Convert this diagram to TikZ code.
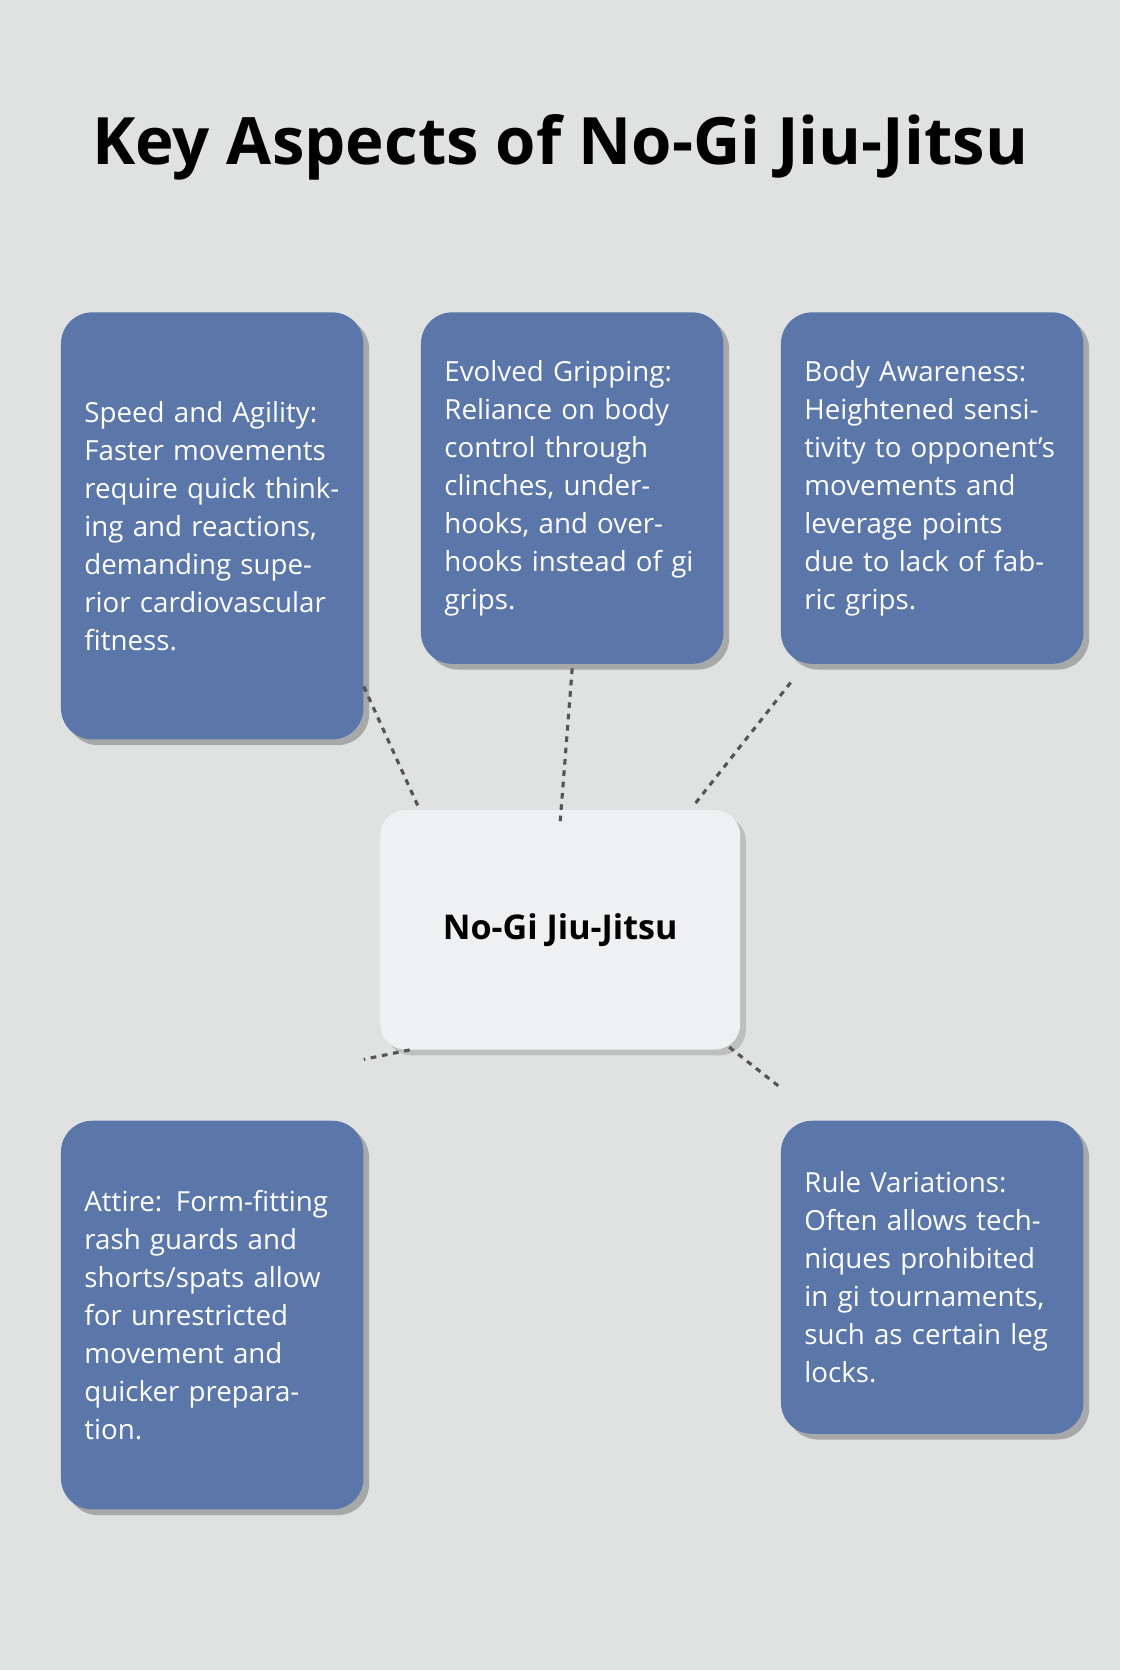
\documentclass[tikz,border=0pt]{standalone}
\usepackage{fontspec}
\setmainfont{Open Sans}
\usetikzlibrary{shadows}
\definecolor{bgray}{HTML}{E0E1E1}
\definecolor{cardblue}{HTML}{5B76A8}
\definecolor{hubwhite}{HTML}{EFF0F2}
\definecolor{linkgray}{HTML}{555555}
\tikzset{
  card/.style={draw=none, fill=cardblue, rounded corners=22pt, anchor=north west,
    text=white, align=left, text width=180pt, inner xsep=16.5pt,
    font=\fontsize{19.5}{26.8}\selectfont,
    drop shadow={shadow xshift=4pt, shadow yshift=-4pt, opacity=0.25, fill=black}},
  link/.style={linkgray, line width=2.2pt, dash pattern=on 4pt off 4pt}
}
\begin{document}
\begin{tikzpicture}[x=0.75pt, y=-0.75pt]
  \fill[bgray] (0,0) rectangle (1052,1568);
  \useasboundingbox (0,0) rectangle (1052,1568);
  % Title
  \node[font=\fontsize{46}{52}\selectfont\bfseries] (title) at (526,138) {Key Aspects of No-Gi Jiu-Jitsu};

  % Cards
  \node[card, minimum height=300.75pt] (speed) at (57,293) {Speed and Agility: Faster movements require quick thinking and reactions, demanding superior cardiovascular fitness.};
  \node[card, minimum height=247.5pt] (grip) at (395,293) {Evolved Gripping: Reliance on body control through clinches, underhooks, and overhooks instead of gi grips.};
  \node[card, minimum height=247.5pt] (aware) at (733,293) {Body Awareness: Heightened sensitivity to opponent's movements and leverage points due to lack of fabric grips.};
  \node[card, minimum height=273.75pt] (attire) at (57,1052) {Attire: Form-fitting rash guards and shorts/spats allow for unrestricted movement and quicker preparation.};
  \node[card, minimum height=220.5pt] (rules) at (733,1052) {Rule Variations: Often allows techniques prohibited in gi tournaments, such as certain leg locks.};

  % Hub
  \node[fill=hubwhite, rounded corners=18pt, minimum width=253.5pt, minimum height=168.75pt,
    font=\fontsize{24}{28}\selectfont\bfseries,
    drop shadow={shadow xshift=4pt, shadow yshift=-4pt, opacity=0.15, fill=black}] (hub) at (526,873) {No-Gi Jiu-Jitsu};

  % Links
  \draw[link] (speed.south east) ++(0,-50) -- ([xshift=-99]hub.north);
  \draw[link] (grip.south) ++(0,4) -- ([yshift=-8]hub.north);
  \draw[link] ([xshift=7,yshift=-13]aware.south west) -- ([xshift=94,yshift=3]hub.north);
  \draw[link] ([xshift=-106]hub.south) -- ([yshift=43]attire.north east);
  \draw[link] ([xshift=119,yshift=2]hub.south) -- ([yshift=23]rules.north west);
\end{tikzpicture}
\end{document}
